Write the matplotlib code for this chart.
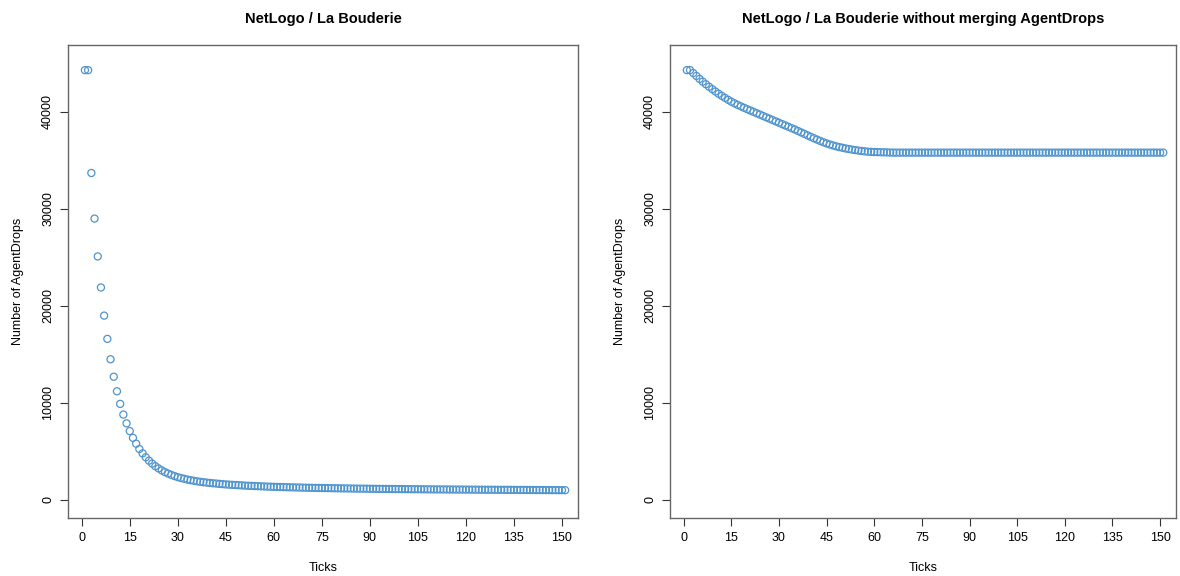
import matplotlib
matplotlib.use('Agg')
import matplotlib.pyplot as plt
import numpy as np

plt.rcParams['font.family'] = ['Liberation Sans', 'DejaVu Sans']

# Number of AgentDrops per tick (ticks 1..151)
merged = [
    44300, 44300, 33700, 29000, 25100, 21900, 19000, 16600, 14500, 12700,
    11200, 9900, 8800, 7900, 7100, 6400, 5800, 5250, 4800, 4400,
    4050, 3750, 3480, 3250, 3050, 2870, 2720, 2580, 2460, 2350,
    2260, 2180, 2100, 2040, 1980, 1920, 1870, 1830, 1790, 1750,
    1720, 1690, 1660, 1630, 1600, 1580, 1560, 1540, 1520, 1500,
    1480, 1465, 1450, 1435, 1420, 1405, 1390, 1378, 1366, 1355,
    1345, 1335, 1325, 1315, 1306, 1297, 1288, 1280, 1272, 1264,
    1257, 1250, 1243, 1236, 1230, 1224, 1218, 1212, 1206, 1200,
    1195, 1190, 1185, 1180, 1175, 1170, 1166, 1162, 1158, 1154,
    1150, 1146, 1142, 1138, 1134, 1130, 1127, 1124, 1121, 1118,
    1115, 1112, 1109, 1106, 1103, 1100, 1097, 1094, 1091, 1088,
    1086, 1084, 1082, 1080, 1078, 1076, 1074, 1072, 1070, 1068,
    1066, 1064, 1062, 1060, 1058, 1056, 1054, 1052, 1050, 1048,
    1046, 1044, 1042, 1040, 1038, 1036, 1034, 1032, 1030, 1028,
    1026, 1024, 1022, 1020, 1018, 1016, 1014, 1012, 1010, 1008,
    1006,
]

no_merge = [
    44300, 44300, 44000, 43700, 43400, 43120, 42850, 42590, 42340, 42100,
    41870, 41650, 41440, 41240, 41050, 40880, 40720, 40570, 40420, 40280,
    40140, 40000, 39860, 39720, 39580, 39440, 39300, 39160, 39020, 38880,
    38740, 38600, 38460, 38320, 38180, 38030, 37880, 37730, 37580, 37430,
    37280, 37140, 37000, 36870, 36750, 36640, 36540, 36450, 36370, 36300,
    36230, 36170, 36110, 36060, 36010, 35970, 35930, 35900, 35880, 35860,
    35850, 35840, 35830, 35820, 35810, 35800, 35800, 35800, 35800, 35800,
    35800, 35800, 35800, 35800, 35800, 35800, 35800, 35800, 35800, 35800,
    35800, 35800, 35800, 35800, 35800, 35800, 35800, 35800, 35800, 35800,
    35800, 35800, 35800, 35800, 35800, 35800, 35800, 35800, 35800, 35800,
    35800, 35800, 35800, 35800, 35800, 35800, 35800, 35800, 35800, 35800,
    35800, 35800, 35800, 35800, 35800, 35800, 35800, 35800, 35800, 35800,
    35800, 35800, 35800, 35800, 35800, 35800, 35800, 35800, 35800, 35800,
    35800, 35800, 35800, 35800, 35800, 35800, 35800, 35800, 35800, 35800,
    35800, 35800, 35800, 35800, 35800, 35800, 35800, 35800, 35800, 35800,
    35800,
]

titles = ['NetLogo / La Bouderie', 'NetLogo / La Bouderie without merging AgentDrops']
x_ticks = [0, 15, 30, 45, 60, 75, 90, 105, 120, 135, 150]
y_ticks = [0, 10000, 20000, 30000, 40000]

color = '#4F94CD'

fig = plt.figure(figsize=(11.8, 5.76), dpi=100)
ax1 = fig.add_axes([0.0576, 0.1007, 0.4322, 0.8213])
ax2 = fig.add_axes([0.5678, 0.1007, 0.4288, 0.8213])

for ax, data, title in zip([ax1, ax2], [merged, no_merge], titles):
    ticks = np.arange(1, len(data) + 1)
    ax.scatter(ticks, data, s=26, facecolors='none', edgecolors=color, linewidths=0.9)
    ax.set_title(title, fontsize=10.5, fontweight='bold', pad=16)
    ax.set_xlabel('Ticks', fontsize=9, labelpad=13)
    ax.set_ylabel('Number of AgentDrops', fontsize=9, labelpad=13)
    ax.set_xlim(-4.3, 155.0)
    ax.set_ylim(-1860, 46900)
    ax.set_xticks(x_ticks)
    ax.set_yticks(y_ticks)
    ax.set_yticklabels([str(v) for v in y_ticks], rotation=90, va='center')
    ax.tick_params(labelsize=9, length=6, width=0.8, color='#333333', pad=4)

    for side in ['top', 'right', 'bottom', 'left']:
        ax.spines[side].set_color('#666666')
        ax.spines[side].set_linewidth(1.0)

plt.savefig('out.png', dpi=100)
plt.close()
